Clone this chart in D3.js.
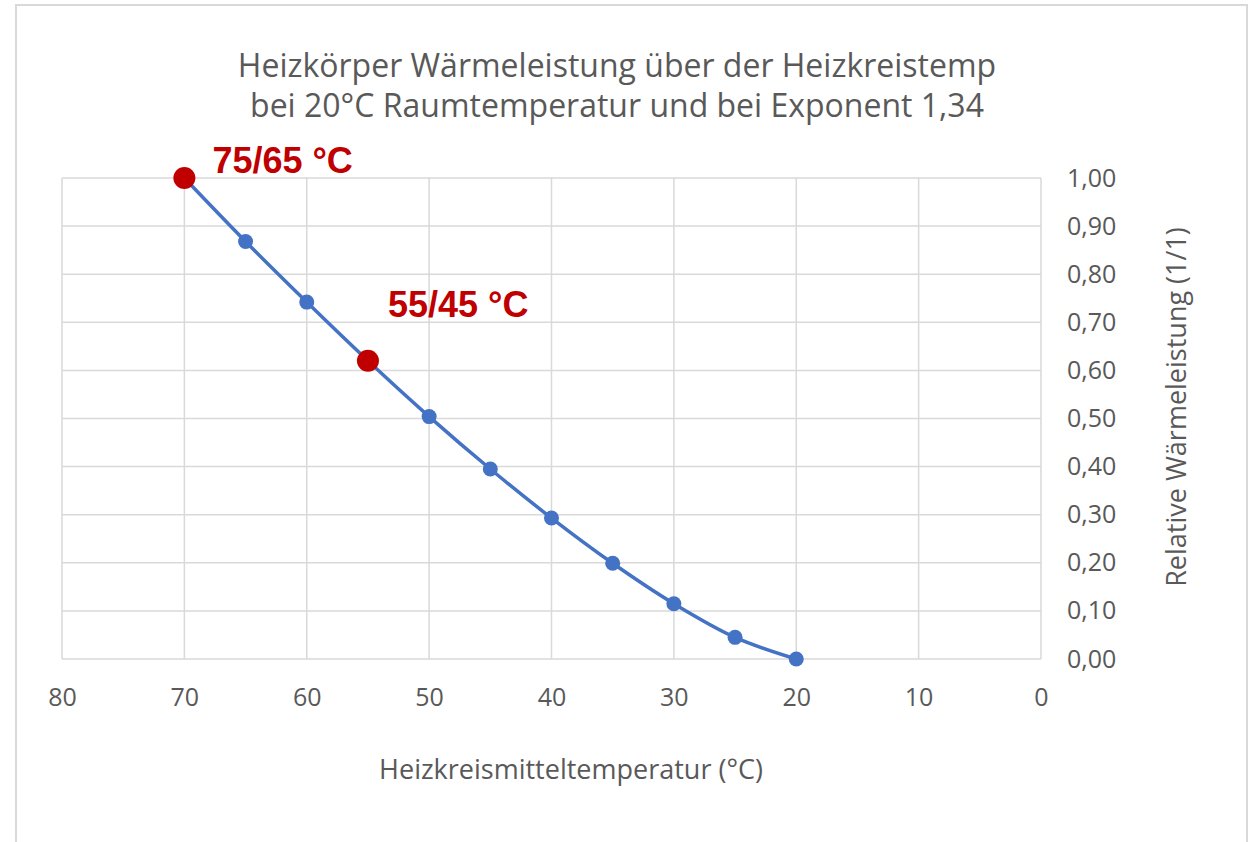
<!DOCTYPE html>
<html>
<head>
<meta charset="utf-8">
<script src="https://cdn.jsdelivr.net/npm/d3@7"></script>
<style>
  body { margin: 0; background: #fff; }
  text { font-family: "Open Sans", Lato, sans-serif; }
</style>
</head>
<body>
<svg id="chart" width="1255" height="842"></svg>
<script>
// values
const temps = [70, 65, 60, 55, 50, 45, 40, 35, 30, 25, 20];
const power = [1.00, 0.868, 0.742, 0.620, 0.504, 0.395, 0.293, 0.199, 0.115, 0.045, 0.00];
const xTicks = [80, 70, 60, 50, 40, 30, 20, 10, 0];
const yTicks = [0, 0.1, 0.2, 0.3, 0.4, 0.5, 0.6, 0.7, 0.8, 0.9, 1.0];
const marked = [{t: 70, v: 1.00, label: "75/65 °C"}, {t: 55, v: 0.620, label: "55/45 °C"}];
const titleLines = ["Heizkörper Wärmeleistung über der Heizkreistemp",
                    "bei 20°C Raumtemperatur und bei Exponent 1,34"];

const svg = d3.select("#chart");
const grey = "#595959";

// chart frame (bottom edge runs off the picture)
svg.append("rect")
   .attr("x", 16).attr("y", 5)
   .attr("width", 1231).attr("height", 860)
   .attr("fill", "none").attr("stroke", "#d9d9d9").attr("stroke-width", 2);

const plot = {left: 62, right: 1041, top: 178, bottom: 659};

const x = d3.scaleLinear().domain([80, 0]).range([plot.left, plot.right]);
const y = d3.scaleLinear().domain([0, 1]).range([plot.bottom, plot.top]);

// gridlines
svg.append("g").selectAll("line")
   .data(yTicks).enter().append("line")
   .attr("x1", plot.left).attr("x2", plot.right)
   .attr("y1", d => y(d)).attr("y2", d => y(d))
   .attr("stroke", "#d9d9d9").attr("stroke-width", 1.5);
svg.append("g").selectAll("line")
   .data(xTicks).enter().append("line")
   .attr("x1", d => x(d)).attr("x2", d => x(d))
   .attr("y1", plot.top).attr("y2", plot.bottom)
   .attr("stroke", "#d9d9d9").attr("stroke-width", 1.5);

// axis labels (Excel style, no tick marks)
const xAxis = d3.axisBottom(x).tickValues(xTicks).tickSize(0).tickPadding(29);
svg.append("g")
   .attr("transform", "translate(0," + plot.bottom + ")")
   .call(xAxis)
   .call(g => g.select(".domain").remove())
   .selectAll("text")
   .attr("font-size", "25px").attr("fill", grey).style("font-family", "'Open Sans', sans-serif");

const yAxis = d3.axisRight(y).tickValues(yTicks).tickSize(0).tickPadding(26)
   .tickFormat(d => d3.format(".2f")(d).replace(".", ","));
svg.append("g")
   .attr("transform", "translate(" + plot.right + ",0)")
   .call(yAxis)
   .call(g => g.select(".domain").remove())
   .selectAll("text")
   .attr("font-size", "25px").attr("fill", grey).style("font-family", "'Open Sans', sans-serif");

// title
svg.append("g").selectAll("text")
   .data(titleLines).enter().append("text")
   .attr("x", 617).attr("y", (d, i) => 77 + i * 40)
   .attr("text-anchor", "middle")
   .attr("font-size", "32px").attr("fill", grey)
   .text(d => d);

// axis titles
svg.append("text")
   .attr("x", 571).attr("y", 779)
   .attr("text-anchor", "middle")
   .attr("font-size", "27px").attr("fill", grey)
   .text("Heizkreismitteltemperatur (°C)");
svg.append("text")
   .attr("transform", "translate(1186,407) rotate(-90)")
   .attr("text-anchor", "middle")
   .attr("font-size", "27px").attr("fill", grey)
   .text("Relative Wärmeleistung (1/1)");

// the curve
const pts = temps.map((t, i) => ({t: t, v: power[i]}));
const line = d3.line()
   .x(d => x(d.t)).y(d => y(d.v))
   .curve(d3.curveCatmullRom.alpha(0.5));
svg.append("path")
   .datum(pts)
   .attr("d", line)
   .attr("fill", "none").attr("stroke", "#4472c4").attr("stroke-width", 3.5);

svg.append("g").selectAll("circle")
   .data(pts).enter().append("circle")
   .attr("cx", d => x(d.t)).attr("cy", d => y(d.v))
   .attr("r", 7.5).attr("fill", "#4472c4");

// highlighted operating points
svg.append("g").selectAll("circle")
   .data(marked).enter().append("circle")
   .attr("cx", d => x(d.t)).attr("cy", d => y(d.v))
   .attr("r", 11).attr("fill", "#c00000");

svg.append("g").selectAll("text")
   .data(marked).enter().append("text")
   .attr("x", (d, i) => x(d.t) + (i === 0 ? 28 : 20))
   .attr("y", (d, i) => i === 0 ? y(d.v) - 5 : y(d.v) - 44)
   .attr("font-size", "36px").attr("font-weight", "bold").attr("fill", "#c00000")
   .style("font-family", "Arial, 'Liberation Sans', sans-serif")
   .text(d => d.label);
</script>
</body>
</html>
